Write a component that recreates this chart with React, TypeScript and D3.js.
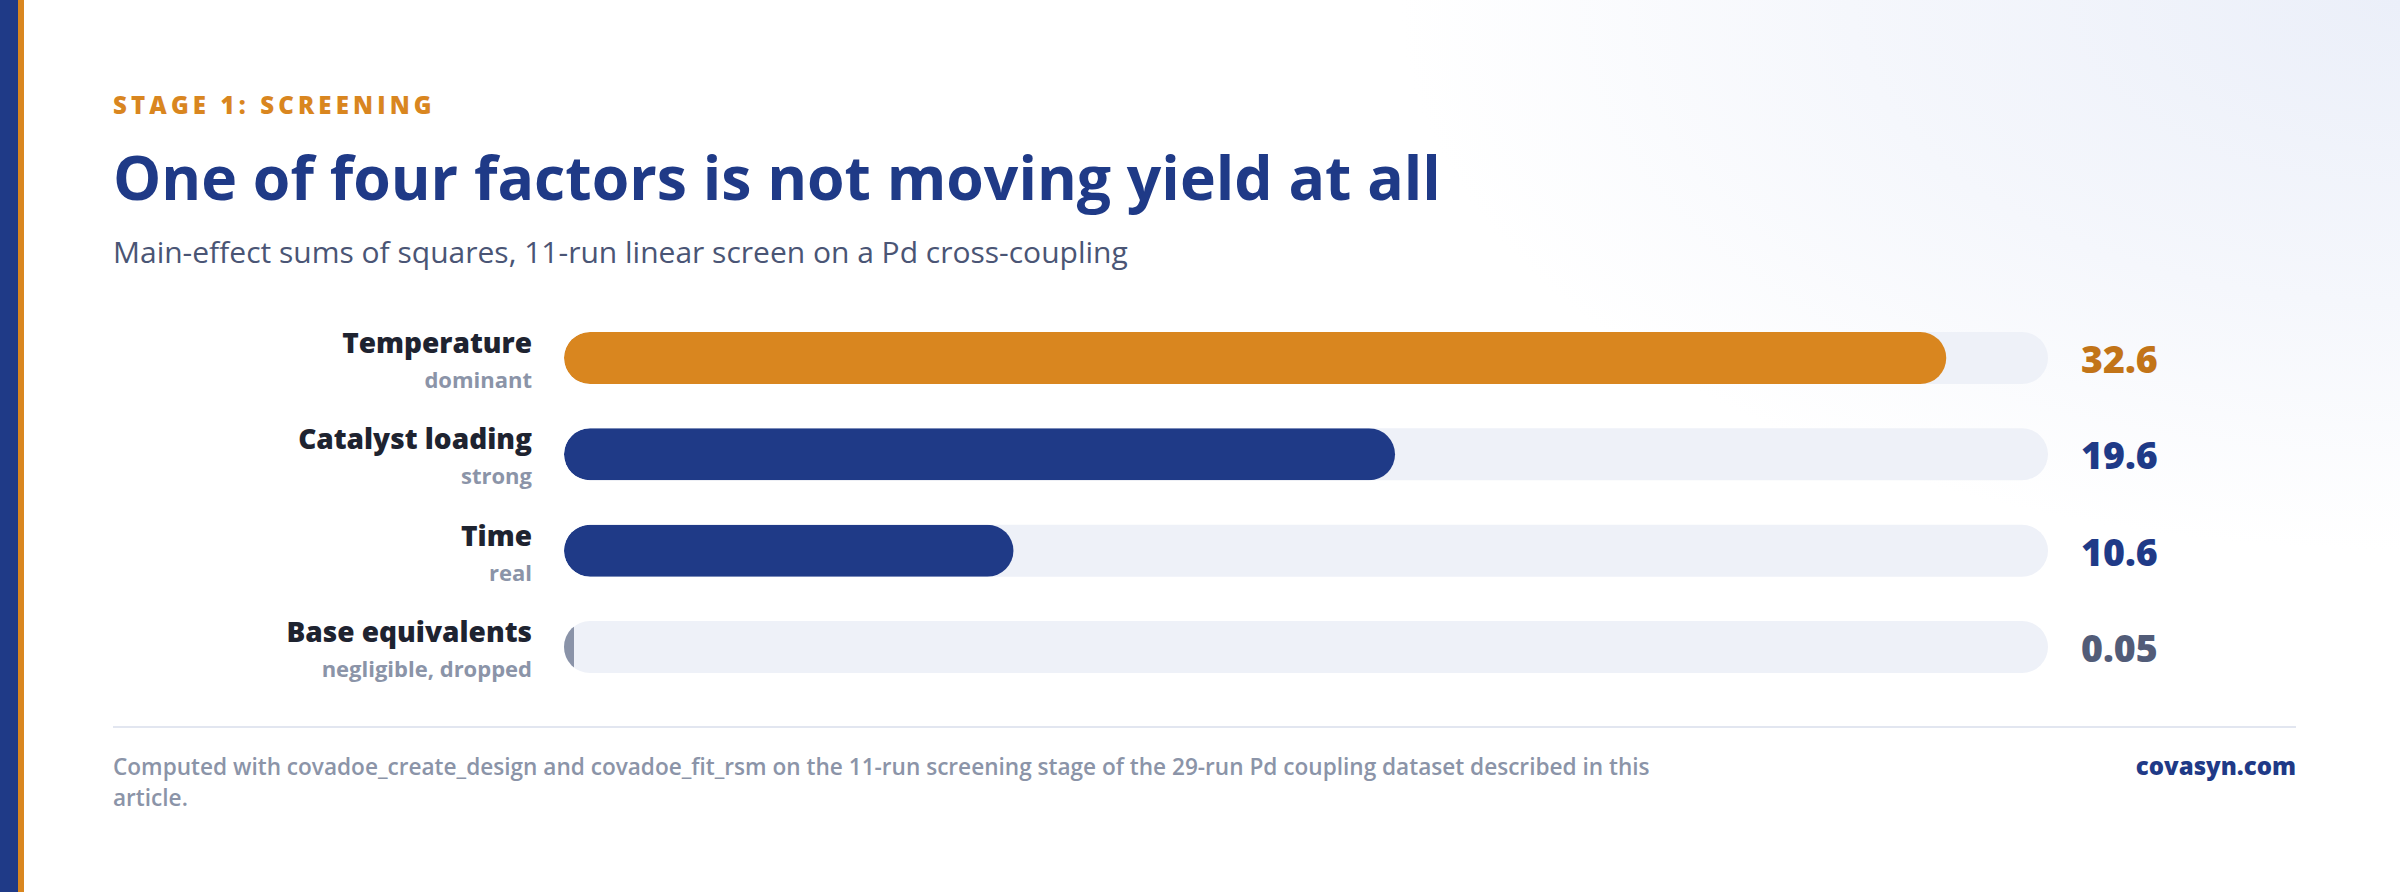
import React, { useEffect, useRef } from "react";
import * as d3 from "d3";

const factors = ["Temperature", "Catalyst loading", "Time", "Base equivalents"];
const verdicts = ["dominant", "strong", "real", "negligible, dropped"];
const sumsOfSquares = [32.6, 19.6, 10.6, 0.05];
const valueLabels = ["32.6", "19.6", "10.6", "0.05"];
const axisMax = 35;

const kicker = "STAGE 1: SCREENING";
const title = "One of four factors is not moving yield at all";
const subtitle =
  "Main-effect sums of squares, 11-run linear screen on a Pd cross-coupling";
const footLines = [
  "Computed with covadoe_create_design and covadoe_fit_rsm on the 11-run screening stage of the 29-run Pd coupling dataset described in this",
  "article.",
];
const brand = "covasyn.com";

const W = 2400;
const H = 892;
const FONT = "'Open Sans', 'Noto Sans', sans-serif";

const App: React.FC = () => {
  const ref = useRef<SVGSVGElement>(null);

  useEffect(() => {
    if (!ref.current) return;
    const svg = d3.select(ref.current);
    svg.selectAll("*").remove();

    const rows = factors.map((f, i) => ({
      factor: f,
      verdict: verdicts[i],
      value: sumsOfSquares[i],
      label: valueLabels[i],
    }));

    const barH = 52;
    const r = barH / 2;
    const x = d3.scaleLinear().domain([0, axisMax]).range([564, 2048]);
    const y = d3.scalePoint<string>().domain(factors).range([358, 647]);

    const fill = d3
      .scaleOrdinal<string, string>()
      .domain(verdicts)
      .range(["#D9861F", "#1F3A87", "#1F3A87", "#8A93A8"]);
    const textFill = d3
      .scaleOrdinal<string, string>()
      .domain(verdicts)
      .range(["#C27418", "#1F3A87", "#1F3A87", "#525C78"]);

    const defs = svg.append("defs");
    const grad = defs
      .append("radialGradient")
      .attr("id", "bg")
      .attr("gradientUnits", "userSpaceOnUse")
      .attr("cx", W)
      .attr("cy", 0)
      .attr("r", 1000)
      .attr("gradientTransform", `translate(${W},0) scale(1,0.55) translate(${-W},0)`);
    grad.append("stop").attr("offset", 0).attr("stop-color", "#EBEFF9");
    grad.append("stop").attr("offset", 0.55).attr("stop-color", "#F5F7FC");
    grad.append("stop").attr("offset", 1).attr("stop-color", "#FFFFFF");

    svg.append("rect").attr("width", W).attr("height", H).attr("fill", "#fff");
    svg.append("rect").attr("width", W).attr("height", H).attr("fill", "url(#bg)");

    // left accent stripes
    svg.append("rect").attr("x", 0).attr("y", 0).attr("width", 18).attr("height", H).attr("fill", "#1F3A87");
    svg.append("rect").attr("x", 18).attr("y", 0).attr("width", 6).attr("height", H).attr("fill", "#D9861F");

    svg
      .append("text")
      .attr("x", 113)
      .attr("y", 114)
      .attr("font-family", FONT)
      .attr("font-weight", 800)
      .attr("font-size", 24)
      .attr("letter-spacing", 4.15)
      .attr("fill", "#D9861F")
      .text(kicker);

    svg
      .append("text")
      .attr("x", 113)
      .attr("y", 200)
      .attr("font-family", FONT)
      .attr("font-weight", 700)
      .attr("font-size", 60.7)
      .attr("fill", "#1F3A87")
      .text(title);

    svg
      .append("text")
      .attr("x", 113)
      .attr("y", 263)
      .attr("font-family", FONT)
      .attr("font-weight", 500)
      .attr("font-size", 30)
      .attr("fill", "#4A5575")
      .text(subtitle);

    const row = svg
      .selectAll("g.row")
      .data(rows)
      .enter()
      .append("g")
      .attr("class", "row");

    row.each(function (d, i) {
      const cy = y(d.factor) as number;
      defs
        .append("clipPath")
        .attr("id", `track-${i}`)
        .append("rect")
        .attr("x", x(0))
        .attr("y", cy - r)
        .attr("width", x(axisMax) - x(0))
        .attr("height", barH)
        .attr("rx", r);
    });

    row
      .append("rect")
      .attr("x", x(0))
      .attr("y", (d) => (y(d.factor) as number) - r)
      .attr("width", x(axisMax) - x(0))
      .attr("height", barH)
      .attr("rx", r)
      .attr("fill", "#EEF1F8");

    row
      .append("rect")
      .attr("clip-path", (_d, i) => `url(#track-${i})`)
      .attr("x", x(0))
      .attr("y", (d) => (y(d.factor) as number) - r)
      .attr("width", (d) => Math.max(x(d.value) - x(0), 10))
      .attr("height", barH)
      .attr("rx", (d) => (x(d.value) - x(0) >= barH ? r : 0))
      .attr("fill", (d) => fill(d.verdict));

    row
      .append("text")
      .attr("x", 532)
      .attr("y", (d) => (y(d.factor) as number) - 5)
      .attr("text-anchor", "end")
      .attr("font-family", FONT)
      .attr("font-weight", 800)
      .attr("font-size", 28)
      .attr("fill", "#1E2330")
      .text((d) => d.factor);

    row
      .append("text")
      .attr("x", 532)
      .attr("y", (d) => (y(d.factor) as number) + 30)
      .attr("text-anchor", "end")
      .attr("font-family", FONT)
      .attr("font-weight", 700)
      .attr("font-size", 22)
      .attr("fill", "#8B94A8")
      .text((d) => d.verdict);

    row
      .append("text")
      .attr("x", 2081)
      .attr("y", (d) => (y(d.factor) as number) + 15)
      .attr("font-family", FONT)
      .attr("font-weight", 800)
      .attr("font-size", 37.5)
      .attr("fill", (d) => textFill(d.verdict))
      .text((d) => d.label);

    svg
      .append("line")
      .attr("x1", 113)
      .attr("x2", 2296)
      .attr("y1", 727)
      .attr("y2", 727)
      .attr("stroke", "#E2E6F0")
      .attr("stroke-width", 2);

    svg
      .append("text")
      .attr("font-family", FONT)
      .attr("font-weight", 600)
      .attr("font-size", 22.6)
      .attr("fill", "#8B94A8")
      .selectAll("tspan")
      .data(footLines)
      .enter()
      .append("tspan")
      .attr("x", 113)
      .attr("y", (_d, i) => 775 + i * 31)
      .text((d) => d);

    svg
      .append("text")
      .attr("x", 2296)
      .attr("y", 775)
      .attr("text-anchor", "end")
      .attr("font-family", FONT)
      .attr("font-weight", 800)
      .attr("font-size", 24)
      .attr("fill", "#1F3A87")
      .text(brand);
  }, []);

  return (
    <svg
      ref={ref}
      width={W}
      height={H}
      style={{ position: "absolute", left: 0, top: 0, display: "block" }}
    />
  );
};

export default App;
